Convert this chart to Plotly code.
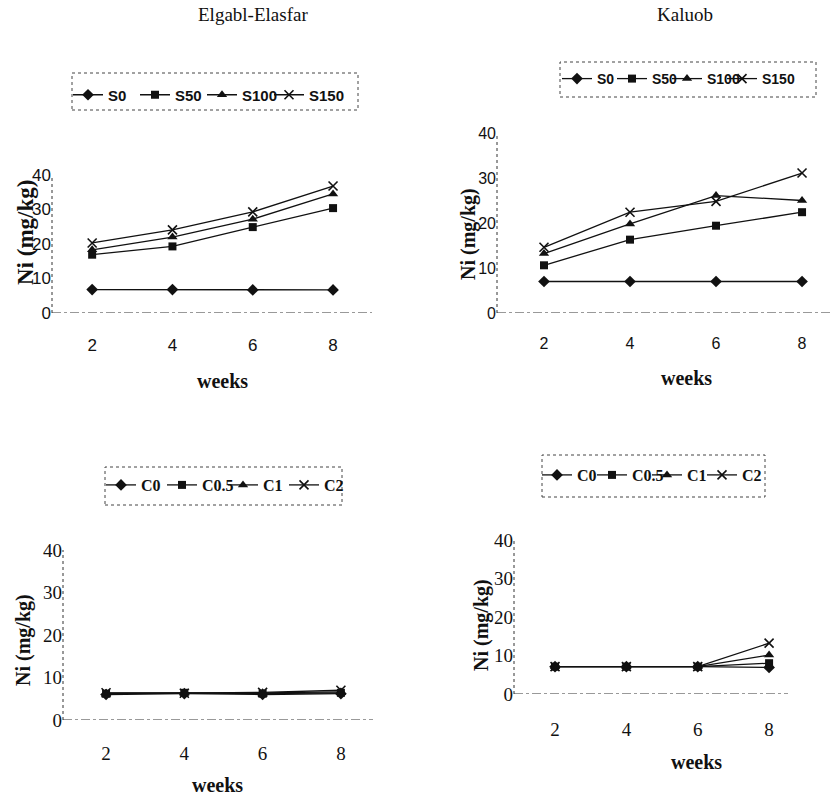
import plotly.graph_objects as go

# ---------------- data ----------------
weeks = [2, 4, 6, 8]
week_ticks = [2, 4, 6, 8]
ni_ticks = [0, 10, 20, 30, 40]

sludge_names = ["S0", "S50", "S100", "S150"]
compost_names = ["C0", "C0.5", "C1", "C2"]

elgabl_S0 = [6.8, 6.8, 6.7, 6.7]
elgabl_S50 = [16.9, 19.3, 24.9, 30.4]
elgabl_S100 = [18.3, 22.0, 27.2, 34.5]
elgabl_S150 = [20.3, 24.1, 29.3, 36.8]

kaluob_S0 = [7.0, 7.0, 7.0, 7.0]
kaluob_S50 = [10.6, 16.3, 19.4, 22.4]
kaluob_S100 = [13.2, 19.8, 26.1, 25.0]
kaluob_S150 = [14.6, 22.4, 24.8, 31.1]

elgabl_C0 = [6.0, 6.2, 6.0, 6.2]
elgabl_C05 = [6.2, 6.4, 6.2, 6.4]
elgabl_C1 = [6.3, 6.3, 6.4, 6.6]
elgabl_C2 = [6.4, 6.3, 6.5, 7.0]

kaluob_C0 = [7.1, 7.1, 7.1, 6.9]
kaluob_C05 = [7.1, 7.1, 7.1, 8.0]
kaluob_C1 = [7.1, 7.1, 7.1, 10.1]
kaluob_C2 = [7.1, 7.1, 7.1, 13.2]

# ---------------- styling ----------------
W, H = 836, 797
symbols = ["diamond", "square", "triangle-up", "x-thin-open"]
sizes = [9, 8, 9, 9]
INK = "#111111"
SERIF = "Liberation Serif, Times New Roman, serif"
SANS = "Liberation Sans, Arial, sans-serif"

fig = go.Figure()

panels = [
    ("x", "y", "legend", sludge_names, [elgabl_S0, elgabl_S50, elgabl_S100, elgabl_S150]),
    ("x2", "y2", "legend2", sludge_names, [kaluob_S0, kaluob_S50, kaluob_S100, kaluob_S150]),
    ("x3", "y3", "legend3", compost_names, [elgabl_C0, elgabl_C05, elgabl_C1, elgabl_C2]),
    ("x4", "y4", "legend4", compost_names, [kaluob_C0, kaluob_C05, kaluob_C1, kaluob_C2]),
]

for xa, ya, lg, names, series in panels:
    for i, (name, vals) in enumerate(zip(names, series)):
        sym = symbols[i]
        fig.add_trace(go.Scatter(
            x=weeks, y=vals, name=name, xaxis=xa, yaxis=ya, legend=lg,
            mode="lines+markers",
            line=dict(color=INK, width=1.3),
            marker=dict(symbol=sym, size=sizes[i], color=INK,
                        line=dict(color=INK, width=1.6 if "x" in sym else 0)),
            showlegend=True,
        ))
    # empty spacer entry so the last legend label is not clipped
    fig.add_trace(go.Scatter(
        x=[None], y=[None], name=" ", xaxis=xa, yaxis=ya, legend=lg,
        mode="markers", marker=dict(size=1, color="rgba(0,0,0,0)"),
        hoverinfo="skip", showlegend=True,
    ))


def px_x(p):
    return p / W


def px_y(p):
    return 1 - p / H


geo = {
    "1": dict(xl=52, xr=372, y0=313, y40=175, xrange=[1.0, 8.97], tfont=dict(family=SANS, size=17, color=INK), xstand=20),
    "2": dict(xl=497, xr=833, y0=313, y40=133, xrange=[0.907, 8.72], tfont=dict(family=SANS, size=16, color=INK), xstand=19),
    "3": dict(xl=63, xr=373, y0=720, y40=550, xrange=[0.90, 8.82], tfont=dict(family=SERIF, size=19, color=INK), xstand=20),
    "4": dict(xl=514, xr=788, y0=694, y40=540, xrange=[0.85, 8.53], tfont=dict(family=SERIF, size=19, color=INK), xstand=22),
}

layout_axes = {}
for k, g in geo.items():
    suf = "" if k == "1" else k
    layout_axes["xaxis" + suf] = dict(
        domain=[px_x(g["xl"]), px_x(g["xr"])], range=g["xrange"], automargin=False,
        anchor="y" + suf, tickvals=week_ticks, showgrid=False, zeroline=False,
        showline=False, ticks="", tickfont=g["tfont"], ticklabelstandoff=g["xstand"],
    )
    layout_axes["yaxis" + suf] = dict(
        domain=[px_y(g["y0"]), px_y(g["y40"])], range=[0, 40], automargin=False,
        anchor="x" + suf, tickvals=ni_ticks, showgrid=False, zeroline=False,
        showline=False, ticks="", tickfont=g["tfont"], ticklabelstandoff=0,
    )

shapes = []
for k in geo:
    suf = "" if k == "1" else k
    shapes.append(dict(type="line", xref=f"x{suf} domain", x0=0, x1=0,
                       yref=f"y{suf}", y0=0, y1=40,
                       line=dict(color="#333333", width=1, dash="dot")))
    shapes.append(dict(type="line", xref=f"x{suf} domain", x0=0, x1=1,
                       yref=f"y{suf}", y0=0, y1=0,
                       line=dict(color="#333333", width=1, dash="dashdot")))

legend_boxes = [(72, 73, 358, 110), (560, 62, 816, 97), (105, 467, 342, 505), (542, 455, 765, 497)]
for (x0, y0, x1, y1) in legend_boxes:
    shapes.append(dict(type="rect", xref="paper", yref="paper",
                       x0=px_x(x0), x1=px_x(x1), y0=px_y(y1), y1=px_y(y0),
                       line=dict(color="#444444", width=1, dash="dot")))


def legend_cfg(xpx, ypx, font, ew):
    return dict(orientation="h", x=px_x(xpx), y=px_y(ypx), xanchor="left", yanchor="middle",
                bgcolor="rgba(0,0,0,0)", borderwidth=0, font=font, itemwidth=30,
                entrywidth=ew, entrywidthmode="pixels", tracegroupgap=0,
                itemclick=False, itemdoubleclick=False)


legend_font_top = dict(family=SANS, size=15, color=INK, weight="bold")
legend_font_tr = dict(family=SANS, size=14, color=INK, weight="bold")
legend_font_bot = dict(family=SERIF, size=16, color=INK, weight="bold")

annotations = [
    dict(text="Elgabl-Elasfar", x=px_x(253), y=px_y(15), font=dict(family=SERIF, size=19, color=INK)),
    dict(text="Kaluob", x=px_x(685), y=px_y(15), font=dict(family=SERIF, size=19, color=INK)),
    dict(text="<b>weeks</b>", x=px_x(222), y=px_y(381), font=dict(family=SERIF, size=20, color=INK)),
    dict(text="<b>weeks</b>", x=px_x(686), y=px_y(378), font=dict(family=SERIF, size=20, color=INK)),
    dict(text="<b>weeks</b>", x=px_x(218), y=px_y(785), font=dict(family=SERIF, size=20, color=INK)),
    dict(text="<b>weeks</b>", x=px_x(696), y=px_y(762), font=dict(family=SERIF, size=20, color=INK)),
    dict(text="<b>Ni (mg/kg)</b>", x=px_x(25), y=px_y(233), textangle=-90, font=dict(family=SERIF, size=23, color=INK)),
    dict(text="<b>Ni (mg/kg)</b>", x=px_x(468), y=px_y(234), textangle=-90, font=dict(family=SERIF, size=20, color=INK)),
    dict(text="<b>Ni (mg/kg)</b>", x=px_x(23), y=px_y(640), textangle=-90, font=dict(family=SERIF, size=20, color=INK)),
    dict(text="<b>Ni (mg/kg)</b>", x=px_x(481), y=px_y(625), textangle=-90, font=dict(family=SERIF, size=20, color=INK)),
]
for a in annotations:
    a.update(xref="paper", yref="paper", showarrow=False, xanchor="center", yanchor="middle")

fig.update_layout(
    width=W, height=H, autosize=False,
    margin=dict(l=0, r=0, t=0, b=0, pad=0, autoexpand=False),
    paper_bgcolor="white", plot_bgcolor="white",
    showlegend=True,
    legend=legend_cfg(68, 95, legend_font_top, 22),
    legend2=legend_cfg(557, 79, legend_font_tr, 10),
    legend3=legend_cfg(101, 485, legend_font_bot, 16),
    legend4=legend_cfg(537, 475, legend_font_bot, 10),
    shapes=shapes,
    annotations=annotations,
    **layout_axes,
)

fig.write_html("out.html", config={"displayModeBar": False})
